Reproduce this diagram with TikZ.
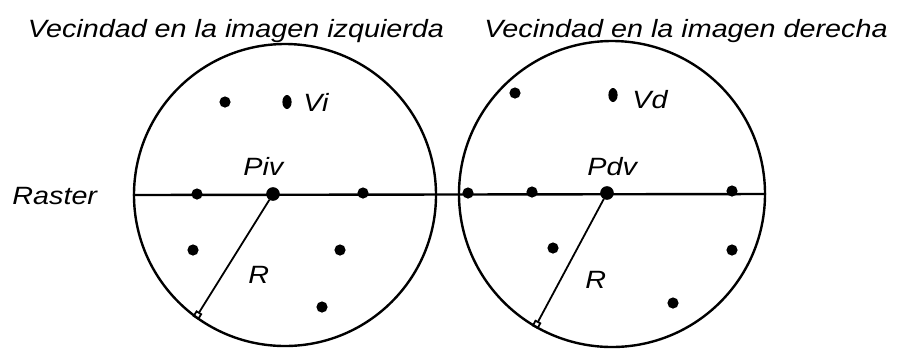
\documentclass[tikz,border=0pt]{standalone}
\usepackage{fontspec}
\newfontfamily\vecfont[FakeStretch=1.15]{Liberation Sans}
\usetikzlibrary{positioning,arrows.meta,shapes.geometric}
\tikzset{
  nbhd/.style={circle, draw, line width=1.2pt, inner sep=0pt},
  dot/.style={circle, fill, inner sep=0pt, minimum size=5.6pt},
  vdot/.style={ellipse, fill, inner sep=0pt, minimum width=4.6pt, minimum height=7pt},
  cdot/.style={circle, draw, fill, line width=0.8pt, inner sep=0pt, minimum size=6pt},
  lbl/.style={font=\vecfont\itshape\fontsize{12.5}{14}\selectfont, inner sep=0pt},
  radio/.style={line width=0.9pt, -{Square[open,length=3.6pt,width=3.6pt]}}
}
\begin{document}
\begin{tikzpicture}[x=0.5pt, y=-0.5pt]
\useasboundingbox (0,0) rectangle (900,350);
% the two neighbourhoods
\node[nbhd, minimum size=151pt] (circL) at (285,195) {};
\node[nbhd, minimum size=153pt] (circR) at (612,194) {};
\node[lbl, anchor=base] (titleL) at (236,37) {Vecindad en la imagen izquierda};
\node[lbl, anchor=base] (titleR) at (686,37) {Vecindad en la imagen derecha};
\node[lbl, anchor=base west] (raster) at (12,204) {Raster};
\draw[line width=1.2pt] (circL.west) -- (circR.east);
% points of each neighbourhood
\foreach \p [count=\i] in {(225,102),(197,194),(363,193),(193,250),(340,250),(322,307)}
  \node[dot] (l\i) at \p {};
\foreach \p [count=\i] in {(515,93),(468,193),(532,192),(732,191),(553,248),(732,250),(673,303)}
  \node[dot] (r\i) at \p {};
\node[vdot] (vi) at (287,102) {};
\node[vdot] (vd) at (613,95) {};
\node[cdot] (piv) at (273,194) {};
\node[cdot] (pdv) at (607,193) {};
\node[lbl, anchor=base west] (vilbl) at (303,111) {Vi};
\node[lbl, anchor=base west] (vdlbl) at (632,108) {Vd};
\node[lbl, anchor=base west] (pivlbl) at (243,175) {Piv};
\node[lbl, anchor=base west] (pdvlbl) at (587,175) {Pdv};
\node[lbl, anchor=base west] (rL) at (248,283) {R};
\node[lbl, anchor=base west] (rR) at (585,288) {R};
% radius
\draw[radio] (piv) -- (circL.234);
\draw[radio] (pdv) -- (circR.240);
\end{tikzpicture}
\end{document}
